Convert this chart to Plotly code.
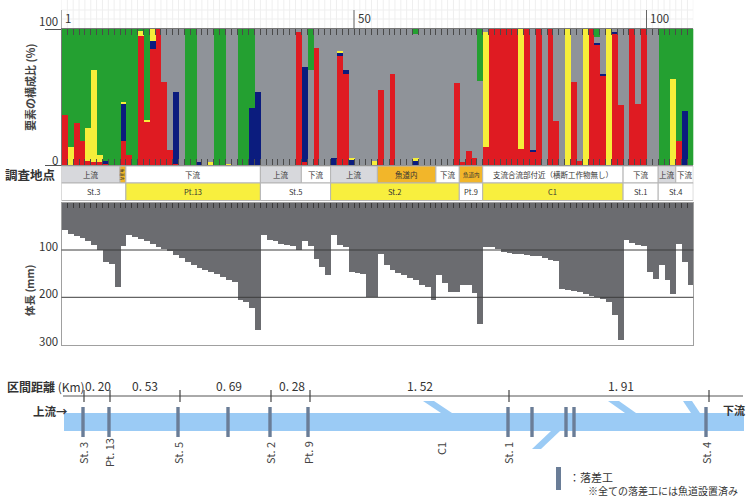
import plotly.graph_objects as go

# ---------------- data ----------------
bars = list(range(1, 109))

# composition (%) of river elements per sample (bottom -> top)
red = [37, 0, 31, 18, 3, 2, 2, 1, 0, 0,
       18, 7, 0, 95, 32, 85, 100, 61, 11, 1,
       0, 0, 0, 0, 0, 0, 0, 0, 0, 0,
       0, 0, 0, 0, 0, 0, 0, 0, 0, 0,
       98, 2, 0, 86, 0, 0, 0, 80, 67, 0,
       0, 0, 0, 0, 55, 0, 67, 0, 0, 0,
       0, 0, 0, 0, 0, 0, 0, 60, 2, 10,
       5, 0, 13, 100, 100, 100, 100, 100, 12, 100,
       10, 100, 0, 100, 32, 0, 0, 61, 3, 0,
       100, 88, 66, 0, 96, 44, 0, 100, 45, 100,
       0, 0, 0, 0, 0, 18, 0, 0]
navy = [0, 0, 0, 0, 0, 0, 0, 2, 0, 0,
        27, 0, 0, 0, 0, 6, 0, 0, 0, 53,
        0, 0, 0, 2, 0, 0, 0, 0, 0, 0,
        0, 0, 42, 54, 0, 0, 0, 0, 0, 0,
        0, 70, 0, 0, 0, 0, 5, 3, 3, 4,
        0, 0, 0, 0, 0, 0, 0, 0, 0, 0,
        3, 0, 0, 0, 0, 0, 0, 0, 0, 0,
        0, 0, 0, 0, 0, 0, 0, 0, 0, 0,
        1, 0, 0, 0, 0, 0, 0, 0, 0, 0,
        0, 2, 1, 0, 2, 0, 0, 0, 0, 0,
        0, 0, 0, 0, 0, 0, 40, 0]
yellow = [0, 13, 0, 0, 24, 68, 5, 0, 0, 0,
          1, 0, 0, 4, 1, 9, 0, 0, 0, 0,
          0, 0, 0, 0, 0, 2, 0, 0, 1, 0,
          0, 0, 0, 0, 0, 0, 0, 0, 0, 0,
          0, 0, 0, 0, 0, 0, 0, 1, 0, 1,
          0, 0, 0, 3, 0, 0, 0, 0, 0, 0,
          2, 0, 0, 0, 0, 0, 0, 0, 0, 0,
          0, 0, 85, 0, 0, 0, 0, 0, 88, 0,
          0, 0, 0, 0, 0, 0, 100, 0, 0, 100,
          0, 0, 0, 100, 0, 0, 0, 0, 0, 0,
          0, 0, 0, 0, 63, 0, 0, 0]
gray = [0, 0, 0, 0, 0, 0, 0, 0, 0, 0,
        0, 0, 0, 0, 0, 0, 0, 39, 89, 46,
        100, 0, 0, 98, 100, 98, 0, 0, 99, 100,
        0, 0, 0, 46, 100, 100, 100, 100, 100, 100,
        2, 28, 70, 14, 100, 100, 95, 16, 30, 95,
        100, 100, 100, 97, 45, 100, 33, 100, 100, 100,
        91, 100, 100, 100, 100, 100, 100, 40, 98, 90,
        95, 62, 2, 0, 0, 0, 0, 0, 0, 0,
        89, 0, 100, 0, 68, 100, 0, 39, 97, 0,
        0, 4, 33, 0, 2, 56, 100, 0, 55, 0,
        100, 100, 0, 0, 0, 0, 0, 0]
green = [63, 87, 69, 82, 73, 30, 93, 97, 100, 100,
         54, 93, 100, 1, 67, 0, 0, 0, 0, 0,
         0, 100, 100, 0, 0, 0, 100, 100, 0, 0,
         100, 100, 58, 0, 0, 0, 0, 0, 0, 0,
         0, 0, 30, 0, 0, 0, 0, 0, 0, 0,
         0, 0, 0, 0, 0, 0, 0, 0, 0, 0,
         4, 0, 0, 0, 0, 0, 0, 0, 0, 0,
         0, 38, 0, 0, 0, 0, 0, 0, 0, 0,
         0, 0, 0, 0, 0, 0, 0, 0, 0, 0,
         0, 6, 0, 0, 0, 0, 0, 0, 0, 0,
         0, 0, 100, 100, 37, 82, 60, 100]

# body length (mm)
body_length = [58, 65, 70, 75, 80, 88, 100, 125, 128, 178,
               90, 68, 72, 76, 80, 86, 92, 97, 102, 110,
               117, 124, 132, 138, 142, 145, 150, 156, 162, 168,
               205, 210, 223, 269, 68, 78, 80, 86, 88, 90,
               100, 80, 90, 118, 135, 152, 67, 88, 92, 145,
               147, 150, 198, 199, 107, 132, 142, 149, 153, 158,
               162, 174, 178, 206, 153, 170, 188, 188, 174, 174,
               191, 255, 93, 94, 97, 104, 106, 107, 108, 110,
               111, 113, 116, 120, 122, 181, 183, 185, 188, 192,
               196, 199, 204, 209, 237, 290, 79, 85, 88, 90,
               146, 160, 132, 163, 192, 86, 125, 174]

# survey-site groups: (first bar, last bar, label)
row1_groups = [(1, 10, "上流"), (11, 11, "魚道内"), (12, 34, "下流"),
               (35, 41, "上流"), (42, 46, "下流"), (47, 54, "上流"),
               (55, 64, "魚道内"), (65, 68, "下流"), (69, 72, "魚道内"),
               (73, 96, "支流合流部付近（横断工作物無し）"), (97, 102, "下流"),
               (103, 105, "上流"), (106, 108, "下流")]
row2_groups = [(1, 11, "St.3"), (12, 34, "Pt.13"), (35, 46, "St.5"),
               (47, 68, "St.2"), (69, 72, "Pt.9"), (73, 96, "C1"),
               (97, 102, "St.1"), (103, 108, "St.4")]
row2_fill = ["white", "yellow", "white", "yellow", "white", "yellow", "white", "white"]

top_tick_labels = [(0, "1"), (50, "50"), (100, "100")]
top_minor_ticks = [10, 20, 30, 40, 50, 60, 70, 80, 90, 100]
body_ticks = [100, 200, 300]

# river schematic
dist_labels = ["0. 20", "0. 53", "0. 69", "0. 28", "1. 52", "1. 91"]
station_names = ["St. 3", "Pt. 13", "St. 5", "St. 2", "Pt. 9", "C1", "St. 1", "St. 4"]
station_px = [83, 109, 178, 270, 308, 441, 508, 706]
dist_tick_px = [84, 110, 180, 271, 310, 509, 709]
dist_label_px = [98, 145, 229, 292, 420, 621]
drop_px = [83, 109, 178, 228, 270, 308, 508, 532, 566, 574, 706]
tributaries = [[(423, 401), (434, 401), (452, 413), (441, 413)],
               [(532, 449), (541, 449), (560, 431), (551, 431)],
               [(608, 401), (619, 401), (636, 413), (625, 413)],
               [(683, 401), (692, 401), (700, 413), (691, 413)]]

# ---------------- styling ----------------
W, H = 752, 497
FONT = "Noto Sans CJK JP"
TXT = "#333333"
C_RED, C_NAVY, C_YEL, C_GRAY, C_GREEN = "#df1b22", "#0b1c7e", "#f6ee3a", "#8f9399", "#24a031"
C_BODY = "#6b6c70"
C_BOX_GRAY, C_BOX_ORANGE, C_BOX_YEL = "#d7d8dc", "#f2b62a", "#f8ef3e"
C_RIVER, C_DROP = "#9bcbf5", "#6a7d97"


def px(x):
    return x / W


def py(y):
    return 1 - y / H


X_DOM = [61.5 / W, 693.3 / W]
xc = [b - 0.5 for b in bars]

fig = go.Figure()
for vals, col in [(red, C_RED), (navy, C_NAVY), (yellow, C_YEL), (gray, C_GRAY), (green, C_GREEN)]:
    fig.add_trace(go.Bar(x=xc, y=vals, width=1, marker=dict(color=col, line=dict(width=0)),
                         xaxis="x", yaxis="y", showlegend=False, hoverinfo="skip"))
fig.add_trace(go.Bar(x=xc, y=body_length, width=1, marker=dict(color=C_BODY, line=dict(width=0)),
                     xaxis="x3", yaxis="y3", showlegend=False, hoverinfo="skip"))

shapes = []
ann = []


def text(x, y, s, size=11, xanchor="center", yanchor="middle", angle=0, color=TXT, xref="paper", yref="paper"):
    ann.append(dict(x=x, y=y, xref=xref, yref=yref, text=s, showarrow=False, xanchor=xanchor,
                    yanchor=yanchor, textangle=angle, font=dict(family=FONT, size=size, color=color)))


# faint grid above the composition chart
for b in range(0, 109):
    shapes.append(dict(type="line", xref="x", yref="paper", x0=b, x1=b, y0=py(29), y1=py(0),
                       line=dict(color="#efefef", width=1), layer="below"))
for yy in [10, 19]:
    shapes.append(dict(type="line", xref="x", yref="paper", x0=0, x1=108, y0=py(yy), y1=py(yy),
                       line=dict(color="#efefef", width=1), layer="below"))
# long ticks for labelled positions
for v, lab in top_tick_labels:
    shapes.append(dict(type="line", xref="x", yref="paper", x0=v, x1=v, y0=py(29), y1=py(10),
                       line=dict(color="#666", width=1)))
    text(v + 0.3, py(18), lab, size=11.5, xanchor="left", xref="x")

# y labels of composition chart
text(px(60), py(21), "100", size=11.5, xanchor="right")
text(px(60), py(160), "0", size=11.5, xanchor="right")
text(px(30), py(88), "<b>要素の構成比 (%)</b>", size=11, angle=-90, color="#444")

# survey site rows
text(px(30), py(174), "<b>調査地点</b>", size=12.5, color="#333")
for s, e, lab in row1_groups:
    fill = C_BOX_GRAY if lab == "上流" else (C_BOX_ORANGE if lab == "魚道内" else "white")
    shapes.append(dict(type="rect", xref="x", yref="paper", x0=s - 1, x1=e, y0=py(183), y1=py(166),
                       fillcolor=fill, line=dict(color="#b5b5b5", width=1)))
    w = e - s + 1
    if w >= 8:
        text((s - 1 + e) / 2, py(174.5), lab, size=7.5, xref="x")
    elif w >= 3:
        text((s - 1 + e) / 2, py(174.5), lab, size=5.5 if lab == "魚道内" else 7.5, xref="x")
    else:
        text((s - 1 + e) / 2, py(174.5), lab, size=4, angle=90, xref="x")
for (s, e, lab), f in zip(row2_groups, row2_fill):
    shapes.append(dict(type="rect", xref="x", yref="paper", x0=s - 1, x1=e, y0=py(200.5), y1=py(183),
                       fillcolor=C_BOX_YEL if f == "yellow" else "white", line=dict(color="#b5b5b5", width=1)))
    text((s - 1 + e) / 2, py(191.5), lab, size=7.5, xref="x")

# body-length chart
for v in [100, 200]:
    shapes.append(dict(type="line", xref="x3 domain", yref="y3", x0=0, x1=1, y0=v, y1=v,
                       line=dict(color="#3c3c3c", width=1), layer="above"))
label_y = {100: 246, 200: 293, 300: 341}
for v in body_ticks:
    text(px(60), py(label_y[v]), str(v), size=11.5, xanchor="right")
text(px(29), py(290), "<b>体長 (mm)</b>", size=10.5, angle=-90, color="#444")

# ---------------- river schematic ----------------
text(px(5), py(386), "<b>区間距離</b> (Km)", size=12, xanchor="left")
shapes.append(dict(type="line", xref="paper", yref="paper", x0=px(63), x1=px(743), y0=py(396), y1=py(396),
                   line=dict(color="#555", width=1)))
for t in dist_tick_px:
    shapes.append(dict(type="line", xref="paper", yref="paper", x0=px(t), x1=px(t), y0=py(390), y1=py(402),
                       line=dict(color="#444", width=1.2)))
for lab, xx in zip(dist_labels, dist_label_px):
    text(px(xx), py(385), lab, size=12)

# river band and tributaries
shapes.append(dict(type="rect", xref="paper", yref="paper", x0=px(64), x1=px(744), y0=py(431), y1=py(413),
                   fillcolor=C_RIVER, line=dict(width=0), layer="below"))
for poly in tributaries:
    path = "M " + " L ".join(f"{px(a):.5f},{py(b):.5f}" for a, b in poly) + " Z"
    shapes.append(dict(type="path", xref="paper", yref="paper", path=path, fillcolor=C_RIVER,
                       line=dict(width=0), layer="below"))
for d in drop_px:
    shapes.append(dict(type="rect", xref="paper", yref="paper", x0=px(d - 1.7), x1=px(d + 1.7),
                       y0=py(437), y1=py(407), fillcolor=C_DROP, line=dict(width=0)))

text(px(50), py(410.5), "<b>上流→</b>", size=11.5)
text(px(734), py(410), "<b>下流</b>", size=11)
for name, xx in zip(station_names, station_px):
    text(px(xx), py(449 if name == "C1" else 453), name, size=11, angle=-90, color="#444")

# legend of drop structures
shapes.append(dict(type="rect", xref="paper", yref="paper", x0=px(556), x1=px(561), y0=py(490), y1=py(467),
                   fillcolor=C_DROP, line=dict(width=0)))
text(px(567), py(477), "：落差工", size=11, xanchor="left")
text(px(586), py(490), "※全ての落差工には魚道設置済み", size=10, xanchor="left")

axis_common = dict(showgrid=False, zeroline=False)
fig.update_layout(
    width=W, height=H, margin=dict(l=0, r=0, t=0, b=0),
    paper_bgcolor="white", plot_bgcolor="rgba(0,0,0,0)",
    barmode="stack", bargap=0, showlegend=False,
    font=dict(family=FONT, size=11, color=TXT),
    xaxis=dict(domain=X_DOM, range=[0, 108], anchor="y", tickmode="linear", tick0=0, dtick=1,
               ticks="inside", ticklen=6, tickcolor="#4a4a4a", tickwidth=1, mirror="ticks",
               showline=True, linecolor="#777", linewidth=1, showticklabels=False, **axis_common),
    xaxis2=dict(overlaying="x", anchor="y", side="top", range=[0, 108], tickmode="array",
                tickvals=top_minor_ticks, ticks="outside", ticklen=10, tickcolor="#666",
                showticklabels=False, showline=False, **axis_common),
    yaxis=dict(domain=[py(165), py(29)], range=[0, 100], anchor="x", tickmode="array", tickvals=[0, 100],
               ticks="outside", ticklen=16, tickcolor="#555", showticklabels=False,
               showline=True, linecolor="#777", **axis_common),
    xaxis3=dict(domain=X_DOM, range=[0, 108], anchor="y3", side="top", tickmode="linear", tick0=0, dtick=1,
                ticks="inside", ticklen=5, tickcolor="#3a3a3a", showline=True, linecolor="#a0a0a0",
                mirror=True, showticklabels=False, **axis_common),
    yaxis3=dict(domain=[py(344.6), py(202.7)], range=[300, 0], anchor="x3", tickmode="array",
                tickvals=body_ticks, ticks="", showticklabels=False, showline=True, linecolor="#a0a0a0",
                mirror=True, **axis_common),
    shapes=shapes, annotations=ann,
)

fig.write_html("out.html", config={"displayModeBar": False},
               post_script="document.body.style.margin='0';document.body.style.overflow='hidden';")
